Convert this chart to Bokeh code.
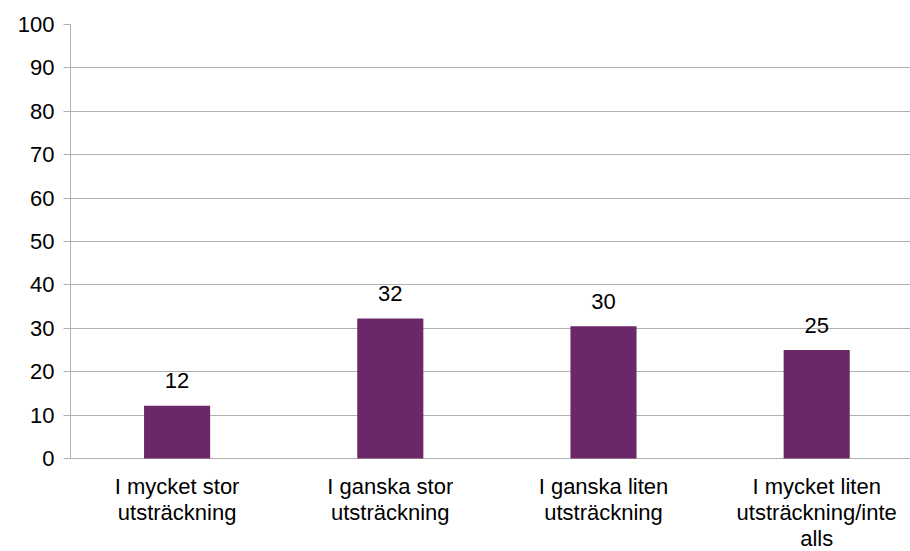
from bokeh.plotting import figure
from bokeh.models import Range1d, FixedTicker, ColumnDataSource
from bokeh.core.properties import value
from bokeh.embed import file_html
from bokeh.resources import INLINE

categories = ["I mycket stor\nutsträckning", "I ganska stor\nutsträckning",
              "I ganska liten\nutsträckning", "I mycket liten\nutsträckning/inte\nalls"]
values = [12.2, 32.3, 30.5, 25.0]
value_labels = ["12", "32", "30", "25"]
y_ticks = [0, 10, 20, 30, 40, 50, 60, 70, 80, 90, 100]

FONT = "Liberation Sans"
BAR = "#6B2869"
GRID = "#B0B0B0"

xs = list(range(len(categories)))
src = ColumnDataSource(dict(x=xs, top=values, lab=value_labels))
cat_src = ColumnDataSource(dict(x=xs, y=[0] * len(xs), lab=categories))

# frame runs to the canvas bottom; the area below y=0 holds the category labels
p = figure(width=910, height=551, output_backend="svg", toolbar_location=None,
           x_range=Range1d(-0.5, 3.44), y_range=Range1d(-21.4, 100),
           min_border_left=70, min_border_top=24, min_border_bottom=0, min_border_right=0)
p.outline_line_color = None
p.background_fill_color = "white"
p.xaxis.visible = False

p.vbar(x="x", top="top", width=0.31, bottom=0, source=src, fill_color=BAR, line_color=None)

p.text(x="x", y="top", text="lab", source=src, text_align="center", text_baseline="alphabetic",
       y_offset=-25, text_font=value(FONT), text_font_size="22px", text_color="black")

# category labels below the baseline
p.text(x="x", y="y", text="lab", source=cat_src, text_align="center", text_baseline="top",
       y_offset=15, text_font=value(FONT), text_font_size="22px", text_color="black",
       text_line_height=1.04)

# axes
p.xgrid.visible = False
p.ygrid.grid_line_color = GRID
p.ygrid.grid_line_width = 1
p.ygrid.ticker = FixedTicker(ticks=y_ticks)
p.yaxis.ticker = FixedTicker(ticks=y_ticks)
p.yaxis.bounds = (0, 100)
p.yaxis.axis_line_color = GRID
p.yaxis.major_tick_line_color = GRID
p.yaxis.major_tick_out = 7
p.yaxis.major_tick_in = 0
p.yaxis.minor_tick_line_color = None
p.yaxis.major_label_text_font = FONT
p.yaxis.major_label_text_font_size = "22px"
p.yaxis.major_label_text_color = "black"
p.yaxis.major_label_standoff = 9

open("out.html", "w").write(file_html(p, INLINE))
